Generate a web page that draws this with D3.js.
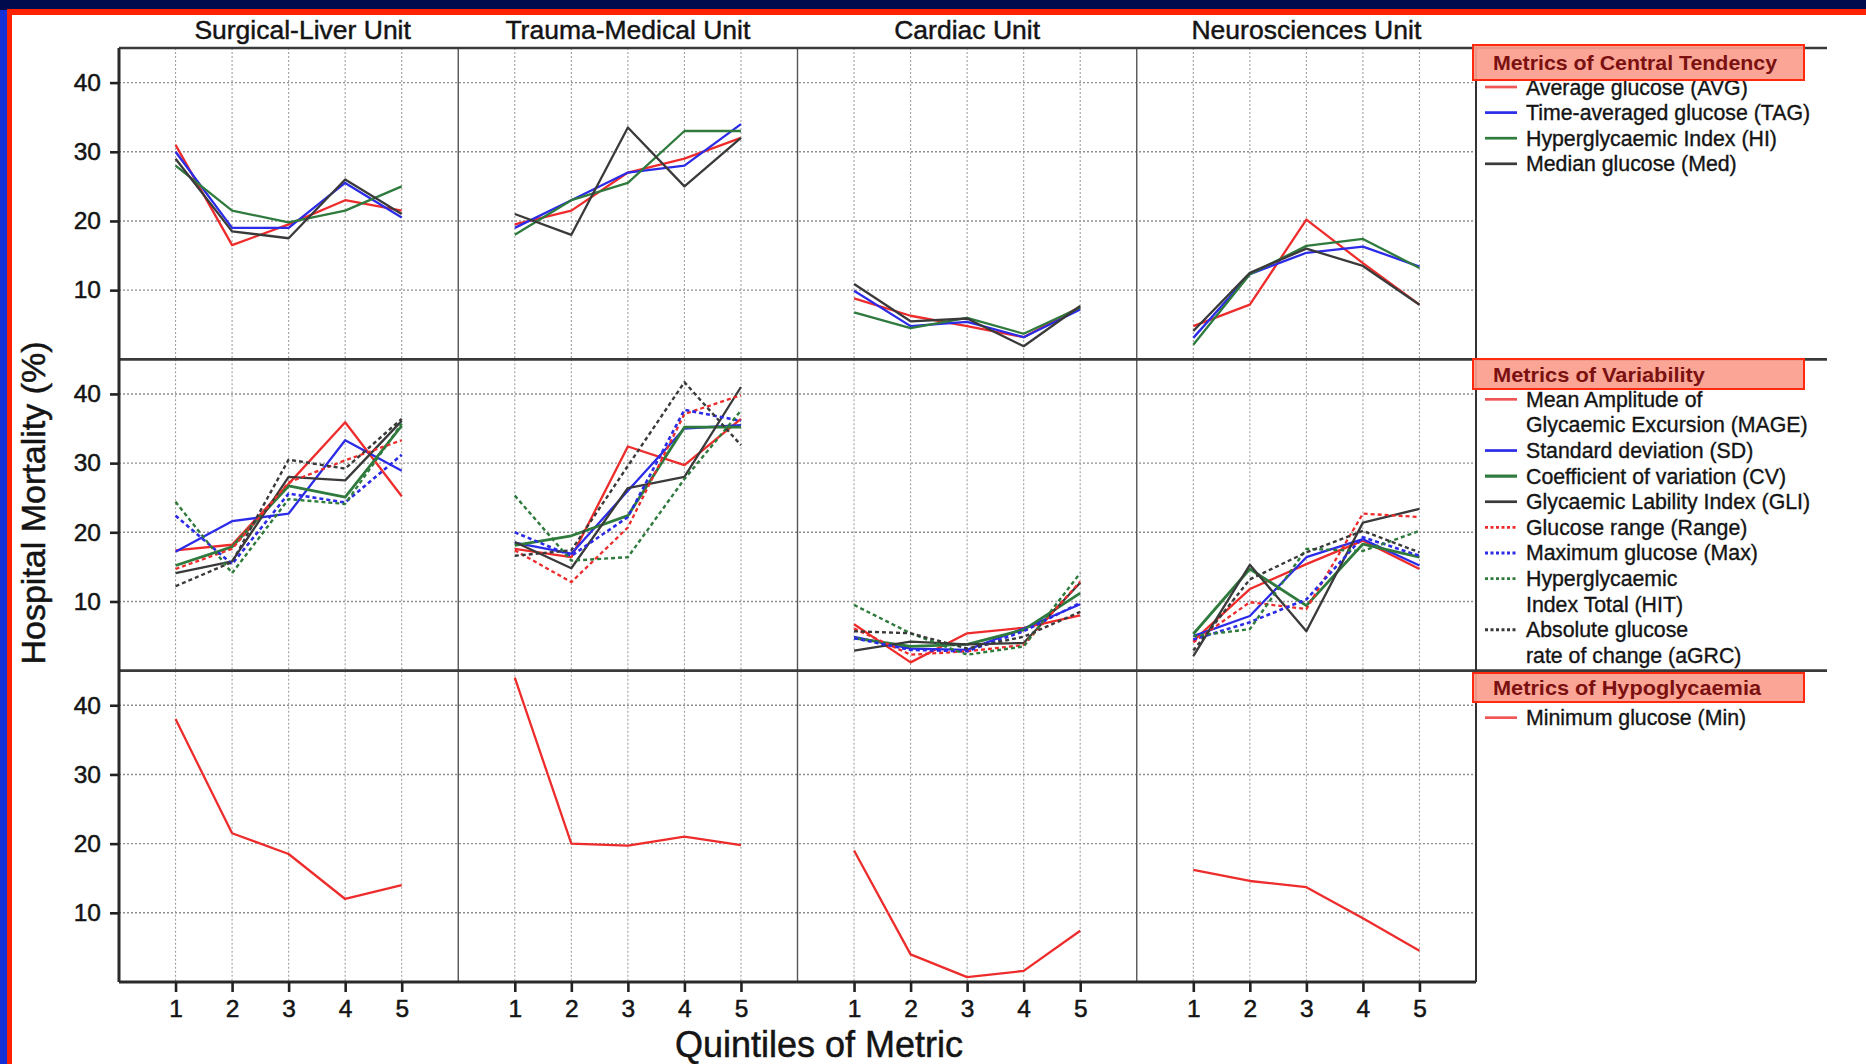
<!DOCTYPE html>
<html>
<head>
<meta charset="utf-8">
<script src="https://cdn.jsdelivr.net/npm/d3@7"></script>
<style>
  html, body { margin: 0; padding: 0; background: #ffffff; }
  svg { display: block; }
  text { font-family: "Liberation Sans", Arial, sans-serif; }
</style>
</head>
<body>
<svg id="chart" width="1866" height="1064"></svg>
<script>
// ---------------- DATA ----------------
const units = ["Surgical-Liver Unit", "Trauma-Medical Unit", "Cardiac Unit", "Neurosciences Unit"];
const quintiles = [1, 2, 3, 4, 5];
const yTicks = [10, 20, 30, 40];
const groupTitles = ["Metrics of Central Tendency", "Metrics of Variability", "Metrics of Hypoglycaemia"];

// each series: one array of 5 quintile values per unit (Surgical-Liver, Trauma-Medical, Cardiac, Neurosciences)
// --- Metrics of Central Tendency ---
const AVG = [[31, 16.5, 19.5, 23, 21.5], [19.5, 21.5, 27, 29, 32], [8.8, 6.3, 4.8, 3.2, 7.6], [4.8, 7.9, 20.2, 13.9, 7.9]];
const TAG = [[30, 19, 19, 25.5, 20.5], [19, 23, 27, 28, 34], [9.9, 4.8, 5.4, 3.2, 7.2], [3.1, 12.3, 15.4, 16.3, 13.4]];
const HI  = [[28, 21.5, 19.8, 21.5, 25], [18, 23, 25.5, 33, 33], [6.8, 4.5, 6.0, 3.7, 7.5], [2.1, 12.3, 16.4, 17.4, 13.2]];
const Med = [[29, 18.5, 17.5, 26, 21], [21, 18, 33.5, 25, 32], [10.9, 5.5, 5.9, 1.9, 7.7], [4.1, 12.5, 16.0, 13.5, 7.9]];
// --- Metrics of Variability ---
const MAGE  = [[17.4, 18.2, 27.0, 35.9, 25.2], [17.6, 16.4, 32.4, 29.7, 36.4], [6.7, 1.2, 5.4, 6.2, 8.0], [4.3, 11.8, 15.4, 18.8, 14.7]];
const SD    = [[17.2, 21.6, 22.7, 33.3, 28.9], [18.5, 16.9, 26.0, 35.0, 35.5], [4.9, 3.2, 3.0, 6.1, 9.6], [5.0, 7.9, 16.4, 19.0, 15.2]];
const CV    = [[15.2, 17.9, 26.7, 25.1, 35.4], [18.1, 19.5, 22.4, 35.2, 35.2], [4.7, 3.5, 3.8, 5.9, 11.2], [5.3, 14.7, 9.4, 18.3, 16.4]];
const GLI   = [[14.1, 15.8, 28.0, 27.5, 36.1], [18.6, 14.8, 26.4, 28.0, 41.0], [2.9, 4.2, 3.8, 4.0, 12.7], [2.1, 15.3, 5.7, 21.4, 23.4]];
const Range = [[14.7, 17.6, 27.2, 30.4, 33.3], [17.4, 12.8, 20.7, 37.1, 39.8], [6.1, 2.3, 2.8, 3.7, 12.9], [4.1, 9.9, 8.9, 22.7, 22.2]];
const Max   = [[22.4, 15.4, 25.6, 24.3, 31.2], [20.0, 16.6, 22.2, 37.7, 36.1], [4.7, 3.0, 2.8, 5.7, 9.8], [4.5, 7.0, 10.3, 19.3, 16.6]];
const HIT   = [[24.4, 14.1, 24.8, 24.1, 35.7], [25.3, 15.9, 16.4, 27.7, 37.6], [9.5, 5.4, 2.3, 3.5, 14.1], [5.0, 6.0, 17.6, 17.3, 20.2]];
const aGRC  = [[12.2, 15.7, 30.5, 29.2, 36.4], [16.6, 17.4, 29.6, 41.7, 32.6], [5.7, 5.4, 3.2, 4.9, 8.5], [2.9, 13.2, 17.1, 20.2, 17.1]];
// --- Metrics of Hypoglycaemia ---
const Min = [[38, 21.5, 18.5, 12, 14], [44, 20, 19.7, 21, 19.8], [19, 4.0, 0.7, 1.6, 7.4], [16.2, 14.6, 13.7, 9.2, 4.5]];

// series labels (legend lines; "\n" = wrapped line)
const centralNames = ["Average glucose (AVG)", "Time-averaged glucose (TAG)", "Hyperglycaemic Index (HI)", "Median glucose (Med)"];
const variabilityNames = ["Mean Amplitude of\nGlycaemic Excursion (MAGE)", "Standard deviation (SD)", "Coefficient of variation (CV)",
  "Glycaemic Lability Index (GLI)", "Glucose range (Range)", "Maximum glucose (Max)", "Hyperglycaemic\nIndex Total (HIT)",
  "Absolute glucose\nrate of change (aGRC)"];
const hypoNames = ["Minimum glucose (Min)"];

// ---------------- STYLES ----------------
const RED = "#ee2c2c", BLUE = "#2b2be8", GREEN = "#2f7a3d", BLACK = "#3a3a3a";
const rows = [
  { title: groupTitles[0], series: [
    { name: centralNames[0], values: AVG, color: RED, dash: null, w: 2.3 },
    { name: centralNames[1], values: TAG, color: BLUE, dash: null, w: 2.3 },
    { name: centralNames[2], values: HI,  color: GREEN, dash: null, w: 2.3 },
    { name: centralNames[3], values: Med, color: BLACK, dash: null, w: 2.3 } ] },
  { title: groupTitles[1], series: [
    { name: variabilityNames[0], values: MAGE,  color: RED, dash: null, w: 2.3 },
    { name: variabilityNames[1], values: SD,    color: BLUE, dash: null, w: 2.3 },
    { name: variabilityNames[2], values: CV,    color: GREEN, dash: null, w: 2.8 },
    { name: variabilityNames[3], values: GLI,   color: BLACK, dash: null, w: 2.3 },
    { name: variabilityNames[4], values: Range, color: RED, dash: "4,3", w: 2.3 },
    { name: variabilityNames[5], values: Max,   color: BLUE, dash: "4,3", w: 2.6 },
    { name: variabilityNames[6], values: HIT,   color: GREEN, dash: "4,3", w: 2.4 },
    { name: variabilityNames[7], values: aGRC,  color: BLACK, dash: "4,3", w: 2.4 } ] },
  { title: groupTitles[2], series: [
    { name: hypoNames[0], values: Min, color: RED, dash: null, w: 2.3 } ] }
];

// ---------------- LAYOUT ----------------
const svg = d3.select("#chart");
const W = 1866, H = 1064;
const L = 119, R = 1476, T = 48, B = 982;
const legendRight = 1827;
const nRows = 3, nCols = units.length;
const TXT = "#141414";

const colScale = d3.scaleLinear().domain([0, nCols]).range([L, R]);
const rowScale = d3.scaleLinear().domain([0, nRows]).range([T, B]);
const xScale = c => d3.scaleLinear().domain([0, 6]).range([colScale(c), colScale(c + 1)]);
const yScale = r => d3.scaleLinear().domain([0, 45]).range([rowScale(r + 1), rowScale(r)]);

// decorative frame (slide border)
svg.append("rect").attr("x", 0).attr("y", 0).attr("width", W).attr("height", H).attr("fill", "#fff");
svg.append("rect").attr("x", 0).attr("y", 0).attr("width", W).attr("height", 10).attr("fill", "#000b4e");
svg.append("rect").attr("x", 0).attr("y", 10).attr("width", 7).attr("height", H - 10).attr("fill", "#1530d6");
svg.append("rect").attr("x", 7).attr("y", 9).attr("width", W - 7).attr("height", 6).attr("fill", "#ff2200");
svg.append("rect").attr("x", 7).attr("y", 9).attr("width", 5).attr("height", H - 9).attr("fill", "#ff2200");

const g = svg.append("g");

// gridlines
for (let r = 0; r < nRows; r++) {
  const y = yScale(r);
  g.selectAll(null).data(yTicks).enter().append("line")
    .attr("x1", L).attr("x2", R).attr("y1", d => y(d)).attr("y2", d => y(d))
    .attr("stroke", "#8e8e8e").attr("stroke-width", 1.4).attr("stroke-dasharray", "2,2");
  for (let c = 0; c < nCols; c++) {
    const x = xScale(c);
    g.selectAll(null).data(quintiles).enter().append("line")
      .attr("x1", d => x(d)).attr("x2", d => x(d)).attr("y1", rowScale(r)).attr("y2", rowScale(r + 1))
      .attr("stroke", "#a0a0a0").attr("stroke-width", 1.1).attr("stroke-dasharray", "2,2");
  }
}

// column separators
g.selectAll(null).data(d3.range(1, nCols)).enter().append("line")
  .attr("x1", d => colScale(d)).attr("x2", d => colScale(d)).attr("y1", T).attr("y2", B)
  .attr("stroke", "#555").attr("stroke-width", 1.4);

// data lines
rows.forEach((row, r) => {
  const y = yScale(r);
  for (let c = 0; c < nCols; c++) {
    const x = xScale(c);
    const line = d3.line().x((d, i) => x(quintiles[i])).y(d => y(d));
    row.series.forEach(s => {
      g.append("path").datum(s.values[c])
        .attr("d", line).attr("fill", "none")
        .attr("stroke", s.color).attr("stroke-width", s.w)
        .attr("stroke-linejoin", "round")
        .attr("stroke-dasharray", s.dash);
    });
  }
});

// row separators / frame
g.selectAll(null).data(d3.range(0, nRows)).enter().append("line")
  .attr("x1", L).attr("x2", legendRight).attr("y1", d => rowScale(d)).attr("y2", d => rowScale(d))
  .attr("stroke", "#3a3a3a").attr("stroke-width", 2.6);
g.append("line").attr("x1", L).attr("x2", R).attr("y1", B).attr("y2", B).attr("stroke", "#2a2a2a").attr("stroke-width", 3);
g.append("line").attr("x1", L).attr("x2", L).attr("y1", T).attr("y2", B).attr("stroke", "#2a2a2a").attr("stroke-width", 3);
g.append("line").attr("x1", R).attr("x2", R).attr("y1", T).attr("y2", B).attr("stroke", "#333").attr("stroke-width", 2);

// y axes
for (let r = 0; r < nRows; r++) {
  const ax = g.append("g").attr("transform", `translate(${L},0)`)
    .call(d3.axisLeft(yScale(r)).tickValues(yTicks).tickSize(9).tickPadding(9).tickFormat(d3.format("d")));
  ax.select(".domain").remove();
  ax.selectAll(".tick line").attr("stroke", "#222").attr("stroke-width", 2.6);
  ax.selectAll(".tick text").attr("font-size", 24.5).attr("fill", TXT)
    .attr("stroke", TXT).attr("stroke-width", 0.5)
    .attr("font-family", "'Liberation Sans', Arial, sans-serif");
}
// x axes
for (let c = 0; c < nCols; c++) {
  const ax = g.append("g").attr("transform", `translate(0,${B})`)
    .call(d3.axisBottom(xScale(c)).tickValues(quintiles).tickSize(10).tickPadding(8).tickFormat(d3.format("d")));
  ax.select(".domain").remove();
  ax.selectAll(".tick line").attr("stroke", "#222").attr("stroke-width", 2.6);
  ax.selectAll(".tick text").attr("font-size", 24.5).attr("fill", TXT)
    .attr("stroke", TXT).attr("stroke-width", 0.5)
    .attr("font-family", "'Liberation Sans', Arial, sans-serif");
}

// column titles
g.selectAll(null).data(units).enter().append("text")
  .attr("x", (d, i) => colScale(i + 0.5) + (i === 0 ? 14 : 0)).attr("y", 39)
  .attr("text-anchor", "middle").attr("font-size", 26.5).attr("fill", TXT)
  .attr("stroke", TXT).attr("stroke-width", 0.45)
  .text(d => d);

// axis titles
svg.append("text").attr("transform", `translate(45,${(T + B) / 2 - 12}) rotate(-90)`)
  .attr("text-anchor", "middle").attr("font-size", 34).attr("fill", TXT)
  .attr("stroke", TXT).attr("stroke-width", 0.5).text("Hospital Mortality (%)");
svg.append("text").attr("x", 819).attr("y", 1057)
  .attr("text-anchor", "middle").attr("font-size", 36).attr("fill", TXT)
  .attr("stroke", TXT).attr("stroke-width", 0.5).text("Quintiles of Metric");

// legends
const headerBoxes = [[45, 35], [359, 30], [673, 29]];
const headerWidths = [284, 212, 268];
const firstItem = [39, 40, 47];
const lineH = 25.6;
rows.forEach((row, r) => {
  const lg = svg.append("g");
  const [by, bh] = headerBoxes[r];
  let yy = rowScale(r) + firstItem[r];
  row.series.forEach(s => {
    const lines = s.name.split("\n");
    lg.append("line").attr("x1", 1485).attr("x2", 1517).attr("y1", yy).attr("y2", yy)
      .attr("stroke", s.color).attr("stroke-width", s.w + 0.4).attr("stroke-dasharray", s.dash ? "3,2.5" : null)
      .attr("opacity", s.color === RED && !s.dash ? 0.8 : 1);
    lines.forEach((t, k) => {
      lg.append("text").attr("x", 1526).attr("y", yy + k * lineH + 7.5)
        .attr("font-size", 21.3).attr("fill", TXT)
        .attr("stroke", TXT).attr("stroke-width", 0.35).text(t);
    });
    yy += lines.length * lineH;
  });
  lg.append("rect").attr("x", 1473).attr("y", by).attr("width", 331).attr("height", bh)
    .attr("fill", "#fa9d8c").attr("fill-opacity", 0.92).attr("stroke", "#ff2a10").attr("stroke-width", 2);
  lg.append("text").attr("x", 1493).attr("y", by + bh / 2 + 7.5)
    .attr("font-size", 21).attr("font-weight", "bold").attr("fill", "#7a1010")
    .attr("textLength", headerWidths[r]).attr("lengthAdjust", "spacingAndGlyphs")
    .text(row.title);
});
</script>
</body>
</html>
